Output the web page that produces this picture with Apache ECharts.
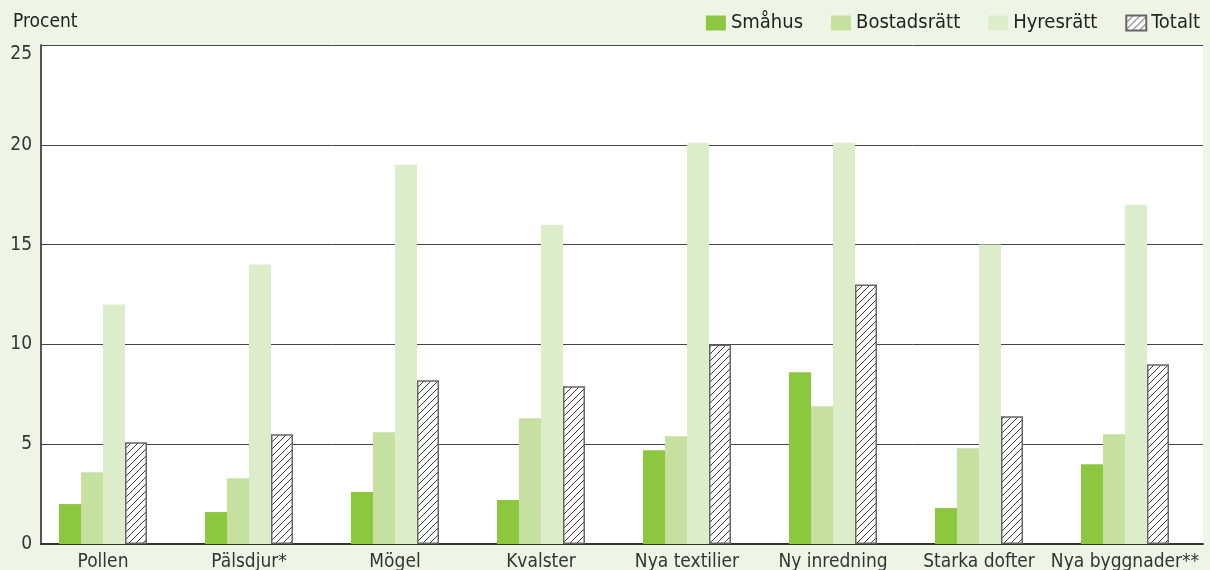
<!DOCTYPE html>
<html><head><meta charset="utf-8">
<script src="https://cdn.jsdelivr.net/npm/echarts@6/dist/echarts.min.js"></script>
<style>html,body{margin:0;padding:0;background:#eff5e6;}#c{width:1210px;height:570px;}</style>
</head><body><div id="c"></div>
<script>
const categories = ['Pollen','Pälsdjur*','Mögel','Kvalster','Nya textilier','Ny inredning','Starka dofter','Nya byggnader**'];
const smahus      = [2.0, 1.6, 2.6, 2.2, 4.7, 8.6, 1.8, 4.0];
const bostadsratt = [3.6, 3.3, 5.6, 6.3, 5.4, 6.9, 4.8, 5.5];
const hyresratt   = [12, 14, 19, 16, 20.1, 20.1, 15, 17];
const totalt      = [5.1, 5.5, 8.2, 7.9, 10, 13, 6.4, 9];
const yTicks = [0, 5, 10, 15, 20, 25];

const FONT = "'DejaVu Sans Condensed','DejaVu Sans',sans-serif";
function hatch(){
  const s = 7;
  const c = document.createElement('canvas'); c.width = s; c.height = s;
  const g = c.getContext('2d');
  g.fillStyle = '#fff'; g.fillRect(0,0,s,s);
  g.strokeStyle = '#3a3a3a'; g.lineWidth = 1;
  g.beginPath();
  g.moveTo(0,s); g.lineTo(s,0);
  g.moveTo(-1,1); g.lineTo(1,-1);
  g.moveTo(s-1,s+1); g.lineTo(s+1,s-1);
  g.stroke();
  return {image: c, repeat: 'repeat'};
}
const chart = echarts.init(document.getElementById('c'));
chart.setOption({
  backgroundColor: '#eff5e6',
  animation: false,
  title: {text: 'Procent', left: 8, top: 8, textStyle: {fontFamily: FONT, fontSize: 19, fontWeight: 'normal', color: '#222'}},
  legend: {
    right: 5, top: 8, itemWidth: 20, itemHeight: 15, itemGap: 28, icon: 'rect',
    textStyle: {fontFamily: FONT, fontSize: 20, color: '#222', padding: [0,0,0,0]},
    data: ['Småhus','Bostadsrätt','Hyresrätt','Totalt']
  },
  grid: [
    {left: 30, right: 12, top: 45, bottom: 26, outerBoundsMode: 'none', containLabel: false},
    {left: 41, right: 7, top: 45, bottom: 26, outerBoundsMode: 'none', containLabel: false, show: true, backgroundColor: '#fff', borderWidth: 0}
  ],
  xAxis: [
    {type: 'category', gridIndex: 0, data: categories,
     axisLine: {show: false}, axisTick: {show: false},
     axisLabel: {fontFamily: FONT, fontSize: 19, color: '#333', margin: 9, interval: 0}},
    {type: 'category', gridIndex: 1, data: categories,
     axisLine: {show: true, lineStyle: {color: '#333', width: 2}}, axisTick: {show: false},
     axisLabel: {show: false}}
  ],
  yAxis: [
    {type: 'value', gridIndex: 0, min: 0, max: 25, interval: 5, show: false},
    {type: 'value', gridIndex: 1, min: 0, max: 25, interval: 5,
     axisLine: {show: true, lineStyle: {color: '#555', width: 2}}, axisTick: {show: false},
     axisLabel: {fontFamily: FONT, fontSize: 19, color: '#333', margin: 9,
       verticalAlignMaxLabel: 'top',
       formatter: v => yTicks.includes(v) ? String(v) : ''},
     splitLine: {show: true, lineStyle: {color: '#444', width: 1}}}
  ],
  series: [
    {name: 'Småhus', type: 'bar', data: smahus, barWidth: 22, barGap: '0%', itemStyle: {color: '#8dc63f'}},
    {name: 'Bostadsrätt', type: 'bar', data: bostadsratt, barWidth: 22, barGap: '0%', itemStyle: {color: '#c5e09f'}},
    {name: 'Hyresrätt', type: 'bar', data: hyresratt, barWidth: 22, barGap: '0%', itemStyle: {color: '#deedc9'}},
    {name: 'Totalt', type: 'bar', data: totalt, barWidth: 22, barGap: '0%', itemStyle: {color: hatch(), borderColor: '#666', borderWidth: 1.5}}
  ]
});
</script></body></html>
